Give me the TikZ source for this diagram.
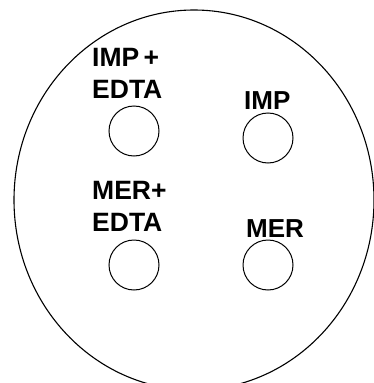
\documentclass[tikz,border=0pt]{standalone}
\usepackage{fontspec}
\setmainfont{Liberation Sans}
\begin{document}
\begin{tikzpicture}[x=1pt,y=-1pt,
  well/.style={draw, circle, line width=1pt, minimum size=50pt, inner sep=0pt},
  lab/.style={inner sep=0pt, anchor=base west, font=\fontsize{26.5}{26.5}\selectfont\bfseries},
  labs/.style={inner sep=0pt, anchor=base west, font=\fontsize{26}{26}\selectfont\bfseries}]
  \useasboundingbox (0,0) rectangle (374,383);
  % plate outline
  \begin{scope}
    \clip (0,0) rectangle (374,383);
    \draw[line width=1.1pt] (194,200) ellipse [x radius=180, y radius=190];
  \end{scope}
  % wells
  \node[well] (w1) at (134,131) {};
  \node[well] (w2) at (268,138) {};
  \node[well] (w3) at (134,265) {};
  \node[well] (w4) at (268,265) {};
  % labels
  \node[lab] (l1a) at (92,66) {IMP\,+};
  \node[lab] (l1b) at (92,98) {EDTA};
  \node[labs] (l2) at (244,109) {IMP};
  \node[lab] (l3a) at (92,199) {MER+};
  \node[lab] (l3b) at (92,231.5) {EDTA};
  \node[labs] (l4) at (246,237) {MER};
\end{tikzpicture}
\end{document}
